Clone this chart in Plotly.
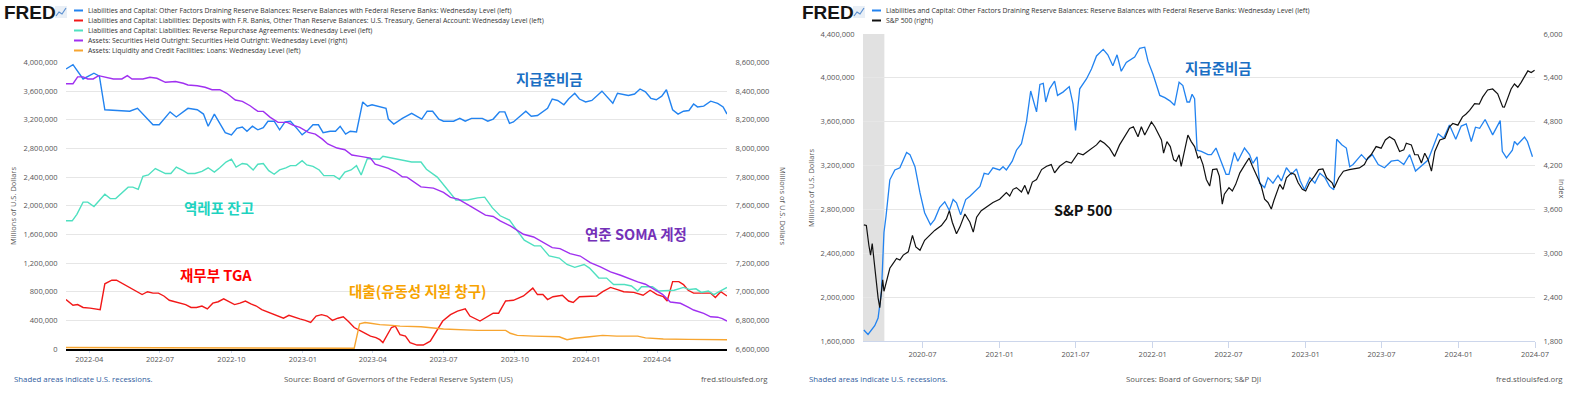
import plotly.graph_objects as go

W, H = 1593, 395
UNIT = 1_000_000  # values below are in trillions of USD; chart unit is millions of USD

# ---------------- Left chart (2022-03 .. 2024-06), weekly levels ----------------
RESERVES_L = [
    ("2022-03-02", 3.91), ("2022-03-11", 3.97), ("2022-03-24", 3.77), ("2022-04-07", 3.85),
    ("2022-04-14", 3.81), ("2022-04-21", 3.34), ("2022-05-23", 3.32), ("2022-06-02", 3.36),
    ("2022-06-22", 3.13), ("2022-06-30", 3.13), ("2022-07-14", 3.31), ("2022-07-22", 3.24),
    ("2022-08-06", 3.36), ("2022-08-18", 3.34), ("2022-08-26", 3.28), ("2022-09-01", 3.11),
    ("2022-09-09", 3.28), ("2022-09-23", 3.02), ("2022-10-01", 2.99), ("2022-10-08", 3.08),
    ("2022-10-15", 3.10), ("2022-10-21", 3.04), ("2022-10-28", 3.11), ("2022-11-04", 3.06),
    ("2022-11-11", 3.09), ("2022-11-17", 3.18), ("2022-11-25", 3.18), ("2022-12-02", 3.06),
    ("2022-12-09", 3.17), ("2022-12-16", 3.18), ("2022-12-25", 3.07), ("2022-12-31", 2.99),
    ("2023-01-08", 3.06), ("2023-01-14", 3.13), ("2023-01-21", 3.13), ("2023-01-27", 3.02),
    ("2023-02-05", 3.04), ("2023-02-12", 3.04), ("2023-02-18", 3.11), ("2023-02-25", 3.00),
    ("2023-03-03", 3.04), ("2023-03-11", 3.03), ("2023-03-19", 3.45), ("2023-03-25", 3.39),
    ("2023-03-31", 3.41), ("2023-04-11", 3.38), ("2023-04-18", 3.36), ("2023-04-21", 3.21),
    ("2023-04-28", 3.14), ("2023-05-09", 3.22), ("2023-05-21", 3.29), ("2023-06-03", 3.21),
    ("2023-06-10", 3.32), ("2023-06-17", 3.32), ("2023-06-25", 3.21), ("2023-07-01", 3.18),
    ("2023-07-14", 3.18), ("2023-07-22", 3.22), ("2023-07-29", 3.18), ("2023-08-06", 3.22),
    ("2023-08-20", 3.22), ("2023-08-27", 3.18), ("2023-09-03", 3.21), ("2023-09-11", 3.31),
    ("2023-09-18", 3.31), ("2023-09-24", 3.15), ("2023-09-29", 3.17), ("2023-10-15", 3.32),
    ("2023-10-22", 3.25), ("2023-10-30", 3.26), ("2023-11-12", 3.36), ("2023-11-18", 3.49),
    ("2023-11-25", 3.47), ("2023-12-03", 3.41), ("2023-12-09", 3.49), ("2023-12-17", 3.57),
    ("2023-12-23", 3.49), ("2023-12-31", 3.45), ("2024-01-08", 3.47), ("2024-01-21", 3.60),
    ("2024-01-28", 3.52), ("2024-02-04", 3.43), ("2024-02-10", 3.57), ("2024-02-18", 3.55),
    ("2024-02-24", 3.54), ("2024-03-03", 3.56), ("2024-03-10", 3.63), ("2024-03-17", 3.59),
    ("2024-03-24", 3.50), ("2024-03-31", 3.48), ("2024-04-07", 3.53), ("2024-04-13", 3.62),
    ("2024-04-21", 3.34), ("2024-04-28", 3.28), ("2024-05-05", 3.32), ("2024-05-12", 3.33),
    ("2024-05-18", 3.42), ("2024-05-23", 3.38), ("2024-05-31", 3.39), ("2024-06-09", 3.46),
    ("2024-06-18", 3.43), ("2024-06-25", 3.38), ("2024-06-30", 3.28),
]

TGA_L = [
    ("2022-03-02", 0.69), ("2022-03-11", 0.61), ("2022-03-17", 0.62), ("2022-03-24", 0.58),
    ("2022-04-02", 0.57), ("2022-04-15", 0.55), ("2022-04-21", 0.91), ("2022-04-30", 0.96),
    ("2022-05-06", 0.96), ("2022-05-11", 0.93), ("2022-05-18", 0.88), ("2022-05-25", 0.84),
    ("2022-06-01", 0.80), ("2022-06-08", 0.76), ("2022-06-15", 0.80), ("2022-06-22", 0.78),
    ("2022-06-29", 0.78), ("2022-07-06", 0.74), ("2022-07-13", 0.68), ("2022-07-20", 0.66),
    ("2022-07-27", 0.63), ("2022-08-03", 0.62), ("2022-08-10", 0.58), ("2022-08-17", 0.58),
    ("2022-08-24", 0.60), ("2022-08-31", 0.56), ("2022-09-07", 0.64), ("2022-09-14", 0.66),
    ("2022-09-21", 0.70), ("2022-09-28", 0.66), ("2022-10-05", 0.62), ("2022-10-12", 0.64),
    ("2022-10-19", 0.67), ("2022-10-26", 0.63), ("2022-11-02", 0.60), ("2022-11-09", 0.55),
    ("2022-11-16", 0.52), ("2022-11-23", 0.48), ("2022-11-30", 0.46), ("2022-12-07", 0.43),
    ("2022-12-14", 0.47), ("2022-12-21", 0.44), ("2022-12-28", 0.42), ("2023-01-04", 0.40),
    ("2023-01-11", 0.37), ("2023-01-18", 0.46), ("2023-01-25", 0.48), ("2023-02-01", 0.46),
    ("2023-02-08", 0.40), ("2023-02-15", 0.43), ("2023-02-22", 0.45), ("2023-03-01", 0.38),
    ("2023-03-08", 0.30), ("2023-03-15", 0.26), ("2023-03-22", 0.22), ("2023-03-29", 0.18),
    ("2023-04-05", 0.16), ("2023-04-10", 0.13), ("2023-04-14", 0.09), ("2023-04-25", 0.30),
    ("2023-04-30", 0.32), ("2023-05-06", 0.20), ("2023-05-13", 0.18), ("2023-05-19", 0.09),
    ("2023-05-28", 0.055), ("2023-06-05", 0.055), ("2023-06-14", 0.11), ("2023-06-21", 0.23),
    ("2023-06-30", 0.39), ("2023-07-10", 0.48), ("2023-07-19", 0.53), ("2023-07-29", 0.56),
    ("2023-08-04", 0.46), ("2023-08-17", 0.39), ("2023-08-28", 0.46), ("2023-09-03", 0.50),
    ("2023-09-10", 0.50), ("2023-09-19", 0.67), ("2023-09-29", 0.68), ("2023-10-12", 0.74),
    ("2023-10-24", 0.85), ("2023-10-30", 0.76), ("2023-11-06", 0.76), ("2023-11-12", 0.69),
    ("2023-11-19", 0.73), ("2023-12-01", 0.75), ("2023-12-09", 0.67), ("2023-12-15", 0.65),
    ("2023-12-23", 0.73), ("2023-12-31", 0.73), ("2024-01-06", 0.74), ("2024-01-14", 0.74),
    ("2024-01-22", 0.80), ("2024-02-01", 0.86), ("2024-02-10", 0.83), ("2024-02-18", 0.80),
    ("2024-03-02", 0.79), ("2024-03-14", 0.75), ("2024-03-23", 0.82), ("2024-04-01", 0.76),
    ("2024-04-09", 0.73), ("2024-04-14", 0.67), ("2024-04-21", 0.94), ("2024-04-29", 0.94),
    ("2024-05-05", 0.90), ("2024-05-11", 0.82), ("2024-05-18", 0.78), ("2024-05-31", 0.78),
    ("2024-06-09", 0.78), ("2024-06-15", 0.72), ("2024-06-22", 0.80), ("2024-06-30", 0.74),
]

RRP_L = [
    ("2022-03-02", 1.79), ("2022-03-10", 1.79), ("2022-03-16", 1.88), ("2022-03-24", 2.05),
    ("2022-03-30", 2.05), ("2022-04-07", 1.99), ("2022-04-21", 2.16), ("2022-04-28", 2.10),
    ("2022-05-05", 2.10), ("2022-05-13", 2.18), ("2022-05-21", 2.26), ("2022-05-27", 2.26),
    ("2022-06-03", 2.23), ("2022-06-09", 2.41), ("2022-06-16", 2.43), ("2022-06-25", 2.52),
    ("2022-07-08", 2.45), ("2022-07-15", 2.45), ("2022-07-22", 2.54), ("2022-07-31", 2.49),
    ("2022-08-06", 2.45), ("2022-08-15", 2.45), ("2022-08-24", 2.48), ("2022-09-01", 2.53),
    ("2022-09-09", 2.47), ("2022-09-16", 2.53), ("2022-09-24", 2.61), ("2022-10-01", 2.65),
    ("2022-10-07", 2.54), ("2022-10-15", 2.59), ("2022-10-21", 2.58), ("2022-10-29", 2.50),
    ("2022-11-04", 2.58), ("2022-11-11", 2.59), ("2022-11-18", 2.49), ("2022-11-25", 2.44),
    ("2022-12-02", 2.50), ("2022-12-10", 2.53), ("2022-12-16", 2.56), ("2022-12-23", 2.56),
    ("2022-12-31", 2.63), ("2023-01-06", 2.57), ("2023-01-14", 2.55), ("2023-01-22", 2.50),
    ("2023-01-28", 2.42), ("2023-02-10", 2.42), ("2023-02-17", 2.37), ("2023-02-24", 2.47),
    ("2023-03-04", 2.50), ("2023-03-11", 2.56), ("2023-03-17", 2.43), ("2023-03-25", 2.66),
    ("2023-04-01", 2.66), ("2023-04-10", 2.65), ("2023-04-14", 2.69), ("2023-04-23", 2.67),
    ("2023-05-06", 2.65), ("2023-05-21", 2.61), ("2023-06-02", 2.61), ("2023-06-09", 2.51),
    ("2023-06-23", 2.40), ("2023-07-07", 2.21), ("2023-07-17", 2.08), ("2023-08-01", 2.08),
    ("2023-08-14", 2.11), ("2023-08-23", 2.12), ("2023-09-02", 1.97), ("2023-09-12", 1.86),
    ("2023-09-24", 1.80), ("2023-10-04", 1.65), ("2023-10-13", 1.52), ("2023-10-26", 1.44),
    ("2023-11-03", 1.44), ("2023-11-14", 1.30), ("2023-11-27", 1.27), ("2023-12-07", 1.18),
    ("2023-12-17", 1.14), ("2023-12-29", 1.18), ("2024-01-05", 1.13), ("2024-01-17", 0.99),
    ("2024-01-27", 0.99), ("2024-02-05", 0.90), ("2024-02-19", 0.90), ("2024-02-28", 0.88),
    ("2024-03-07", 0.81), ("2024-03-12", 0.87), ("2024-03-20", 0.87), ("2024-03-26", 0.87),
    ("2024-04-03", 0.81), ("2024-04-13", 0.81), ("2024-04-23", 0.82), ("2024-05-05", 0.86),
    ("2024-05-13", 0.83), ("2024-05-21", 0.84), ("2024-05-28", 0.79), ("2024-06-06", 0.81),
    ("2024-06-13", 0.76), ("2024-06-20", 0.80), ("2024-06-30", 0.86),
]

SOMA_L = [  # right axis
    ("2022-03-02", 8.452), ("2022-03-11", 8.452), ("2022-03-17", 8.500), ("2022-03-24", 8.500),
    ("2022-03-30", 8.485), ("2022-04-06", 8.485), ("2022-04-13", 8.508), ("2022-04-24", 8.497),
    ("2022-05-02", 8.485), ("2022-05-13", 8.485), ("2022-05-20", 8.508), ("2022-05-26", 8.485),
    ("2022-06-09", 8.485), ("2022-06-18", 8.497), ("2022-06-27", 8.490), ("2022-07-08", 8.462),
    ("2022-07-21", 8.467), ("2022-07-31", 8.455), ("2022-08-06", 8.443), ("2022-08-18", 8.438),
    ("2022-08-28", 8.427), ("2022-09-06", 8.410), ("2022-09-16", 8.410), ("2022-09-25", 8.385),
    ("2022-10-06", 8.338), ("2022-10-15", 8.329), ("2022-10-25", 8.298), ("2022-11-04", 8.259),
    ("2022-11-11", 8.259), ("2022-11-20", 8.217), ("2022-11-30", 8.182), ("2022-12-12", 8.182),
    ("2022-12-19", 8.163), ("2022-12-28", 8.147), ("2023-01-08", 8.112), ("2023-01-17", 8.100),
    ("2023-01-26", 8.065), ("2023-02-02", 8.031), ("2023-02-14", 8.003), ("2023-02-24", 7.991),
    ("2023-03-05", 7.954), ("2023-03-16", 7.945), ("2023-03-29", 7.933), ("2023-04-04", 7.891),
    ("2023-04-10", 7.882), ("2023-04-21", 7.861), ("2023-04-30", 7.837), ("2023-05-09", 7.802),
    ("2023-05-15", 7.800), ("2023-05-23", 7.769), ("2023-06-02", 7.732), ("2023-06-18", 7.723),
    ("2023-07-01", 7.693), ("2023-07-10", 7.658), ("2023-07-20", 7.646), ("2023-08-04", 7.599),
    ("2023-08-13", 7.569), ("2023-08-24", 7.534), ("2023-09-03", 7.525), ("2023-09-12", 7.494),
    ("2023-09-25", 7.459), ("2023-10-04", 7.429), ("2023-10-12", 7.401), ("2023-10-25", 7.382),
    ("2023-11-06", 7.343), ("2023-11-18", 7.308), ("2023-11-28", 7.301), ("2023-12-11", 7.266),
    ("2023-12-24", 7.249), ("2024-01-06", 7.203), ("2024-01-19", 7.173), ("2024-02-01", 7.138),
    ("2024-02-14", 7.115), ("2024-02-27", 7.087), ("2024-03-07", 7.068), ("2024-03-17", 7.052),
    ("2024-03-28", 7.017), ("2024-04-08", 6.982), ("2024-04-18", 6.928), ("2024-05-01", 6.919),
    ("2024-05-11", 6.893), ("2024-05-18", 6.872), ("2024-05-31", 6.849), ("2024-06-09", 6.825),
    ("2024-06-18", 6.822), ("2024-06-24", 6.812), ("2024-06-30", 6.795),
]

LOANS_L = [
    ("2022-03-02", 0.020), ("2022-06-01", 0.020), ("2022-10-01", 0.015), ("2023-01-01", 0.010),
    ("2023-03-08", 0.010), ("2023-03-15", 0.350), ("2023-03-22", 0.370), ("2023-03-29", 0.360),
    ("2023-04-05", 0.350), ("2023-04-10", 0.340), ("2023-04-26", 0.330), ("2023-05-06", 0.320),
    ("2023-06-02", 0.310), ("2023-07-01", 0.280), ("2023-08-14", 0.260), ("2023-09-19", 0.260),
    ("2023-09-25", 0.220), ("2023-10-04", 0.190), ("2023-10-25", 0.180), ("2023-11-27", 0.170),
    ("2023-12-07", 0.130), ("2023-12-17", 0.150), ("2024-01-05", 0.170), ("2024-01-22", 0.190),
    ("2024-02-09", 0.180), ("2024-03-07", 0.180), ("2024-03-17", 0.155), ("2024-04-09", 0.140),
    ("2024-05-11", 0.135), ("2024-06-30", 0.130),
]

# ---------------- Right chart (2020-02 .. 2024-06) ----------------
RESERVES_R = [
    ("2020-02-12", 1.70), ("2020-02-22", 1.66), ("2020-03-09", 1.74), ("2020-03-17", 1.81),
    ("2020-03-25", 2.05), ("2020-03-31", 2.59), ("2020-04-05", 2.74), ("2020-04-14", 3.07),
    ("2020-04-26", 3.16), ("2020-05-08", 3.18), ("2020-05-24", 3.32), ("2020-06-01", 3.30),
    ("2020-06-13", 3.19), ("2020-06-25", 2.95), ("2020-07-06", 2.77), ("2020-07-20", 2.66),
    ("2020-07-30", 2.71), ("2020-08-11", 2.82), ("2020-08-23", 2.87), ("2020-09-03", 2.79),
    ("2020-09-12", 2.89), ("2020-09-20", 2.86), ("2020-09-30", 2.75), ("2020-10-12", 2.89),
    ("2020-10-22", 2.92), ("2020-11-03", 2.97), ("2020-11-15", 3.01), ("2020-11-25", 3.13),
    ("2020-12-05", 3.12), ("2020-12-16", 3.18), ("2021-01-01", 3.16), ("2021-01-09", 3.19),
    ("2021-01-17", 3.16), ("2021-01-31", 3.24), ("2021-02-10", 3.34), ("2021-02-22", 3.40),
    ("2021-03-06", 3.60), ("2021-03-16", 3.88), ("2021-03-22", 3.79), ("2021-03-30", 3.69),
    ("2021-04-07", 3.94), ("2021-04-15", 3.95), ("2021-04-21", 3.78), ("2021-04-30", 3.90),
    ("2021-05-12", 3.97), ("2021-05-19", 3.84), ("2021-06-01", 3.87), ("2021-06-16", 3.92),
    ("2021-06-25", 3.76), ("2021-07-01", 3.52), ("2021-07-11", 3.90), ("2021-07-27", 3.99),
    ("2021-08-08", 4.08), ("2021-08-20", 4.20), ("2021-09-05", 4.26), ("2021-09-16", 4.21),
    ("2021-09-28", 4.11), ("2021-10-08", 4.21), ("2021-10-18", 4.06), ("2021-10-30", 4.14),
    ("2021-11-19", 4.19), ("2021-12-01", 4.27), ("2021-12-13", 4.28), ("2021-12-21", 4.15),
    ("2022-01-02", 4.03), ("2022-01-18", 3.84), ("2022-01-30", 3.82), ("2022-02-11", 3.79),
    ("2022-02-22", 3.75), ("2022-03-05", 3.96), ("2022-03-14", 3.93), ("2022-03-24", 3.78),
    ("2022-03-30", 3.78), ("2022-04-05", 3.85), ("2022-04-11", 3.81), ("2022-04-17", 3.34),
    ("2022-04-27", 3.33), ("2022-05-13", 3.30), ("2022-05-21", 3.30), ("2022-06-01", 3.36),
    ("2022-06-13", 3.24), ("2022-06-25", 3.12), ("2022-07-02", 3.12), ("2022-07-15", 3.32),
    ("2022-07-23", 3.24), ("2022-08-08", 3.36), ("2022-08-20", 3.30), ("2022-08-28", 3.22),
    ("2022-09-07", 3.28), ("2022-09-13", 3.04), ("2022-09-25", 3.00), ("2022-10-03", 3.09),
    ("2022-10-15", 3.04), ("2022-10-27", 3.11), ("2022-11-04", 3.06), ("2022-11-16", 3.18),
    ("2022-11-28", 3.12), ("2022-12-10", 3.17), ("2022-12-19", 3.06), ("2022-12-29", 2.98),
    ("2023-01-11", 3.09), ("2023-01-23", 3.04), ("2023-02-04", 3.13), ("2023-02-16", 3.09),
    ("2023-02-27", 3.01), ("2023-03-09", 2.98), ("2023-03-16", 3.44), ("2023-03-28", 3.39),
    ("2023-04-08", 3.36), ("2023-04-16", 3.19), ("2023-04-24", 3.21), ("2023-05-02", 3.25),
    ("2023-05-14", 3.30), ("2023-05-26", 3.25), ("2023-06-09", 3.30), ("2023-06-23", 3.21),
    ("2023-07-08", 3.18), ("2023-07-24", 3.24), ("2023-08-09", 3.25), ("2023-08-23", 3.21),
    ("2023-09-06", 3.30), ("2023-09-20", 3.15), ("2023-10-04", 3.20), ("2023-10-20", 3.25),
    ("2023-11-01", 3.37), ("2023-11-13", 3.49), ("2023-11-26", 3.45), ("2023-12-10", 3.57),
    ("2023-12-25", 3.44), ("2024-01-07", 3.56), ("2024-01-19", 3.58), ("2024-01-31", 3.42),
    ("2024-02-10", 3.55), ("2024-02-20", 3.54), ("2024-03-04", 3.62), ("2024-03-22", 3.48),
    ("2024-04-09", 3.61), ("2024-04-14", 3.33), ("2024-04-24", 3.27), ("2024-05-08", 3.34),
    ("2024-05-13", 3.42), ("2024-05-20", 3.39), ("2024-06-06", 3.46), ("2024-06-13", 3.42),
    ("2024-06-25", 3.28),
]

SP500_R = [  # index points, right axis
    ("2020-02-12", 3389), ("2020-02-18", 3380), ("2020-02-24", 3110), ("2020-02-28", 2975),
    ("2020-03-03", 3133), ("2020-03-09", 2795), ("2020-03-13", 2525), ("2020-03-17", 2390),
    ("2020-03-21", 2255), ("2020-03-25", 2525), ("2020-03-28", 2637), ("2020-03-31", 2480),
    ("2020-04-06", 2615), ("2020-04-14", 2795), ("2020-04-22", 2862), ("2020-04-30", 2930),
    ("2020-05-08", 2907), ("2020-05-16", 2975), ("2020-05-28", 3020), ("2020-06-07", 3245),
    ("2020-06-15", 3087), ("2020-06-25", 3042), ("2020-07-06", 3178), ("2020-07-18", 3245),
    ("2020-07-30", 3313), ("2020-08-15", 3380), ("2020-08-27", 3470), ("2020-09-03", 3583),
    ("2020-09-10", 3425), ("2020-09-20", 3268), ("2020-09-28", 3358), ("2020-10-10", 3538),
    ("2020-10-22", 3425), ("2020-10-30", 3290), ("2020-11-07", 3493), ("2020-11-18", 3583),
    ("2020-11-30", 3628), ("2020-12-16", 3695), ("2021-01-01", 3740), ("2021-01-17", 3830),
    ("2021-01-25", 3785), ("2021-02-02", 3875), ("2021-02-10", 3898), ("2021-02-22", 3839),
    ("2021-03-02", 3929), ("2021-03-10", 3808), ("2021-03-20", 3974), ("2021-03-30", 4010),
    ("2021-04-11", 4145), ("2021-04-23", 4190), ("2021-05-04", 4213), ("2021-05-12", 4100),
    ("2021-05-24", 4190), ("2021-06-09", 4258), ("2021-06-21", 4235), ("2021-07-07", 4370),
    ("2021-07-19", 4348), ("2021-08-04", 4415), ("2021-08-20", 4483), ("2021-08-29", 4541),
    ("2021-09-08", 4505), ("2021-09-20", 4438), ("2021-10-02", 4325), ("2021-10-14", 4483),
    ("2021-10-26", 4595), ("2021-11-07", 4708), ("2021-11-16", 4731), ("2021-11-27", 4595),
    ("2021-12-05", 4731), ("2021-12-13", 4618), ("2021-12-21", 4708), ("2021-12-29", 4798),
    ("2022-01-06", 4731), ("2022-01-12", 4663), ("2022-01-22", 4550), ("2022-01-27", 4370),
    ("2022-02-04", 4528), ("2022-02-12", 4460), ("2022-02-20", 4280), ("2022-02-26", 4258),
    ("2022-03-05", 4348), ("2022-03-10", 4190), ("2022-03-18", 4415), ("2022-03-26", 4618),
    ("2022-04-03", 4528), ("2022-04-11", 4460), ("2022-04-19", 4303), ("2022-04-24", 4325),
    ("2022-05-01", 4213), ("2022-05-09", 4010), ("2022-05-17", 3920), ("2022-05-24", 4145),
    ("2022-06-03", 4154), ("2022-06-09", 4055), ("2022-06-16", 3673), ("2022-06-21", 3808),
    ("2022-07-02", 3898), ("2022-07-10", 3853), ("2022-07-18", 3943), ("2022-07-28", 4100),
    ("2022-08-09", 4213), ("2022-08-19", 4303), ("2022-08-27", 4190), ("2022-09-04", 4100),
    ("2022-09-12", 3988), ("2022-09-17", 3920), ("2022-09-25", 3740), ("2022-10-03", 3695),
    ("2022-10-11", 3605), ("2022-10-17", 3718), ("2022-10-23", 3808), ("2022-10-31", 3943),
    ("2022-11-08", 3875), ("2022-11-16", 4033), ("2022-11-28", 4100), ("2022-12-06", 4078),
    ("2022-12-14", 3965), ("2022-12-24", 3875), ("2023-01-01", 3853), ("2023-01-10", 3965),
    ("2023-01-22", 4055), ("2023-02-01", 4145), ("2023-02-11", 4154), ("2023-02-20", 4033),
    ("2023-03-05", 3965), ("2023-03-10", 3898), ("2023-03-21", 4033), ("2023-04-01", 4123),
    ("2023-04-15", 4145), ("2023-04-27", 4154), ("2023-05-09", 4168), ("2023-05-21", 4213),
    ("2023-05-29", 4303), ("2023-06-06", 4348), ("2023-06-18", 4460), ("2023-06-30", 4438),
    ("2023-07-10", 4550), ("2023-07-20", 4595), ("2023-08-01", 4550), ("2023-08-13", 4393),
    ("2023-08-23", 4415), ("2023-08-29", 4505), ("2023-09-10", 4483), ("2023-09-18", 4348),
    ("2023-09-26", 4348), ("2023-10-04", 4235), ("2023-10-12", 4370), ("2023-10-20", 4280),
    ("2023-10-28", 4123), ("2023-11-05", 4393), ("2023-11-17", 4550), ("2023-11-29", 4573),
    ("2023-12-10", 4731), ("2023-12-18", 4776), ("2023-12-30", 4753), ("2024-01-10", 4866),
    ("2024-01-18", 4902), ("2024-01-27", 4956), ("2024-02-08", 5046), ("2024-02-19", 5040),
    ("2024-02-27", 5136), ("2024-03-10", 5235), ("2024-03-22", 5248), ("2024-04-03", 5181),
    ("2024-04-15", 5001), ("2024-04-19", 5000), ("2024-04-27", 5136), ("2024-05-05", 5248),
    ("2024-05-13", 5316), ("2024-05-21", 5271), ("2024-05-29", 5338), ("2024-06-06", 5428),
    ("2024-06-14", 5496), ("2024-06-22", 5473), ("2024-06-30", 5503),
]

RECESSIONS = [("2020-02-01", "2020-04-01")]

LEFT_X_RANGE = ["2022-03-02", "2024-06-30"]
RIGHT_X_RANGE = ["2020-02-10", "2024-07-01"]
LEFT_Y_RANGE = [0, 4_000_000]
LEFT_Y2_RANGE = [6_600_000, 8_600_000]
RIGHT_Y_RANGE = [1_600_000, 4_400_000]
RIGHT_Y2_RANGE = [1800, 6000]

LEGEND_LEFT = [
    ("Liabilities and Capital: Other Factors Draining Reserve Balances: Reserve Balances with Federal Reserve Banks: Wednesday Level (left)", "#2283f0"),
    ("Liabilities and Capital: Liabilities: Deposits with F.R. Banks, Other Than Reserve Balances: U.S. Treasury, General Account: Wednesday Level (left)", "#f21818"),
    ("Liabilities and Capital: Liabilities: Reverse Repurchase Agreements: Wednesday Level (left)", "#4fe0c0"),
    ("Assets: Securities Held Outright: Securities Held Outright: Wednesday Level (right)", "#a030f0"),
    ("Assets: Liquidity and Credit Facilities: Loans: Wednesday Level (left)", "#f7a530"),
]
LEGEND_RIGHT = [
    ("Liabilities and Capital: Other Factors Draining Reserve Balances: Reserve Balances with Federal Reserve Banks: Wednesday Level (left)", "#2283f0"),
    ("S&P 500 (right)", "#111111"),
]

# ---------------- helpers ----------------
def PX(x):
    return x / W


def PY(y):
    return 1 - y / H


def dates(series):
    return [d for d, _ in series]


def vals(series, k=UNIT):
    return [v * k for _, v in series]


TICK_FONT = dict(family="Open Sans", size=7.5, color="#555555")
GRID = "#e6e6e6"
AXLINE = "#ccd6eb"

fig = go.Figure()

# Left chart traces
fig.add_trace(go.Scatter(x=dates(RESERVES_L), y=vals(RESERVES_L), mode="lines",
                         line=dict(color="#2283f0", width=1.4), xaxis="x", yaxis="y"))
fig.add_trace(go.Scatter(x=dates(TGA_L), y=vals(TGA_L), mode="lines",
                         line=dict(color="#f21818", width=1.4), xaxis="x", yaxis="y"))
fig.add_trace(go.Scatter(x=dates(RRP_L), y=vals(RRP_L), mode="lines",
                         line=dict(color="#4fe0c0", width=1.4), xaxis="x", yaxis="y"))
fig.add_trace(go.Scatter(x=dates(LOANS_L), y=vals(LOANS_L), mode="lines",
                         line=dict(color="#f7a530", width=1.4), xaxis="x", yaxis="y"))
fig.add_trace(go.Scatter(x=dates(SOMA_L), y=vals(SOMA_L), mode="lines",
                         line=dict(color="#a030f0", width=1.4), xaxis="x", yaxis="y2"))

# Right chart traces
fig.add_trace(go.Scatter(x=dates(RESERVES_R), y=vals(RESERVES_R), mode="lines",
                         line=dict(color="#2283f0", width=1.3), xaxis="x2", yaxis="y3"))
fig.add_trace(go.Scatter(x=dates(SP500_R), y=vals(SP500_R, 1), mode="lines",
                         line=dict(color="#111111", width=1.2), xaxis="x2", yaxis="y4"))

L_DOM_X = [PX(66), PX(727)]
L_DOM_Y = [PY(349), PY(62.5)]
R_DOM_X = [PX(863), PX(1535)]
R_DOM_Y = [PY(341), PY(34)]

xcommon = dict(type="date", tickformat="%Y-%m", ticks="outside",
               tickcolor=AXLINE, tickfont=TICK_FONT, showgrid=False, zeroline=False,
               automargin=False)
ycommon = dict(tickformat=",d", tickfont=TICK_FONT, zeroline=False, ticks="outside",
               ticklen=6, tickcolor="rgba(0,0,0,0)", automargin=False)

fig.update_layout(
    width=W, height=H, margin=dict(l=0, r=0, t=0, b=0, pad=0, autoexpand=False),
    paper_bgcolor="white", plot_bgcolor="white", showlegend=False,
    xaxis=dict(domain=L_DOM_X, anchor="y", range=LEFT_X_RANGE, tick0="2022-01-01", dtick="M3",
               showline=True, linecolor="#000000", linewidth=1.8, ticklen=2, **xcommon),
    yaxis=dict(domain=L_DOM_Y, anchor="x", range=LEFT_Y_RANGE, dtick=400_000,
               showgrid=True, gridcolor=GRID, gridwidth=1, **ycommon),
    yaxis2=dict(overlaying="y", side="right", anchor="x", range=LEFT_Y2_RANGE, dtick=200_000,
                showgrid=False, **ycommon),
    xaxis2=dict(domain=R_DOM_X, anchor="y3", range=RIGHT_X_RANGE, tick0="2020-01-01", dtick="M6",
                showline=True, linecolor=AXLINE, linewidth=1, ticklen=6, **xcommon),
    yaxis3=dict(domain=R_DOM_Y, anchor="x2", range=RIGHT_Y_RANGE, dtick=400_000,
                showgrid=True, gridcolor=GRID, gridwidth=1, **ycommon),
    yaxis4=dict(overlaying="y3", side="right", anchor="x2", range=RIGHT_Y2_RANGE, dtick=600,
                showgrid=False, **ycommon),
)

shapes = []
# recession shading (clipped to the visible window)
for r0, r1 in RECESSIONS:
    shapes.append(dict(type="rect", xref="x2", yref="y3 domain",
                       x0=max(r0, RIGHT_X_RANGE[0]), x1=r1, y0=0, y1=1,
                       fillcolor="#e1e1e1", line=dict(width=0), layer="below"))

ann = []
LEG_FONT = dict(family="Open Sans", size=6.85, color="#333333")


def fred_header(x0, legend, row0=10.5, step=10.0):
    # FRED wordmark
    ann.append(dict(x=PX(x0), y=PY(13), xref="paper", yref="paper", xanchor="left", yanchor="middle",
                    text="<b>FRED</b>", showarrow=False, borderpad=0,
                    font=dict(family="Liberation Sans", size=19, color="#141414")))
    # small graph icon
    ix = x0 + 52
    shapes.append(dict(type="rect", xref="paper", yref="paper", x0=PX(ix), x1=PX(ix + 12),
                       y0=PY(18), y1=PY(6), fillcolor="#e9eff6", line=dict(width=0)))
    shapes.append(dict(type="path", xref="paper", yref="paper",
                       path=f"M {PX(ix+1)},{PY(16)} L {PX(ix+4)},{PY(12)} L {PX(ix+7)},{PY(14)} L {PX(ix+11)},{PY(8)}",
                       line=dict(color="#5b8fd0", width=1.2)))
    lx = x0 + 71
    for i, (txt, col) in enumerate(legend):
        yy = row0 + i * step
        shapes.append(dict(type="line", xref="paper", yref="paper", x0=PX(lx), x1=PX(lx + 9),
                           y0=PY(yy), y1=PY(yy), line=dict(color=col, width=2)))
        ann.append(dict(x=PX(lx + 12), y=PY(yy), xref="paper", yref="paper", xanchor="left",
                        yanchor="middle", text=txt, showarrow=False, font=LEG_FONT))


fred_header(3, LEGEND_LEFT)
fred_header(801, LEGEND_RIGHT)

TITLE_FONT = dict(family="Open Sans", size=7.5, color="#555555")


def vtitle(x, y, text, angle):
    ann.append(dict(x=PX(x), y=PY(y), xref="paper", yref="paper", xanchor="center", yanchor="middle",
                    text=text, textangle=angle, showarrow=False, font=TITLE_FONT))


vtitle(13, 206, "Millions of U.S. Dollars", -90)
vtitle(783, 206, "Millions of U.S. Dollars", 90)
vtitle(811, 188, "Millions of U.S. Dollars", -90)
vtitle(1562, 188, "Index", 90)

FOOT_FONT = dict(family="Open Sans", size=7.8, color="#555555")
LINK_FONT = dict(family="Open Sans", size=7.8, color="#2f5c9e")


def footer(x0, source):
    ann.append(dict(x=PX(x0 + 12), y=PY(379), xref="paper", yref="paper", xanchor="left",
                    yanchor="middle", text="Shaded areas indicate U.S. recessions.",
                    showarrow=False, font=LINK_FONT))
    ann.append(dict(x=PX(x0 + 398), y=PY(379), xref="paper", yref="paper", xanchor="center",
                    yanchor="middle", text=source, showarrow=False, font=FOOT_FONT))
    ann.append(dict(x=PX(x0 + 770), y=PY(379), xref="paper", yref="paper", xanchor="right",
                    yanchor="middle", text="fred.stlouisfed.org", showarrow=False, font=FOOT_FONT))


footer(0, "Source: Board of Governors of the Federal Reserve System (US)")
footer(795, "Sources: Board of Governors; S&P DJI")

KFONT = "Noto Sans CJK KR"


def label(x, y, text, color, size=14.5):
    ann.append(dict(x=PX(x), y=PY(y), xref="paper", yref="paper", xanchor="center", yanchor="middle",
                    text=f"<b>{text}</b>", showarrow=False,
                    font=dict(family=KFONT, size=size, color=color)))


label(549, 79, "지급준비금", "#1a6fc4")
label(219, 207, "역레포 잔고", "#1fd3c0")
label(636, 233, "연준 SOMA 계정", "#7431b8")
label(216, 274, "재무부 TGA", "#ff0000")
label(418, 290, "대출(유동성 지원 창구)", "#f7a300")
label(1218, 67, "지급준비금", "#1a6fc4")
label(1083, 210, "S&P 500", "#111111")

fig.update_layout(shapes=shapes, annotations=ann)
# remove the default 8px page margin so the figure sits at the window origin
fig.write_html("out.html", config={"displayModeBar": False},
               post_script="document.body.style.margin='0px';")
